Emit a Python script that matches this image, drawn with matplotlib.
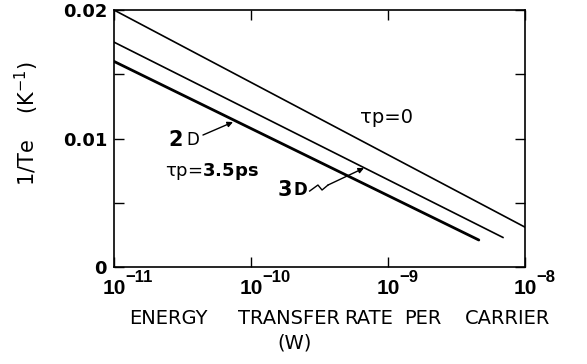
import matplotlib.pyplot as plt
import numpy as np
from matplotlib.ticker import FixedLocator, FixedFormatter
from matplotlib.transforms import offset_copy

plt.rcParams['font.family'] = ['DejaVu Sans']
plt.rcParams['mathtext.fontset'] = 'dejavusans'

# energy transfer rate per carrier (W) and 1/Te (1/K) at the line ends
p_tau0 = [1e-11, 1e-8]
inv_te_tau0 = [0.0200, 0.0031]

p_3d = [1e-11, 6.9e-9]
inv_te_3d = [0.0175, 0.0023]

p_2d = [1e-11, 4.6e-9]
inv_te_2d = [0.0160, 0.0021]

xticks = [1e-11, 1e-10, 1e-9, 1e-8]
xtick_exponents = ['\u221211', '\u221210', '\u22129', '\u22128']
yticks = [0, 0.01, 0.02]
yticklabels = ['0', '0.01', '0.02']
yminor = [0.005, 0.015]

fig = plt.figure(figsize=(5.87, 3.64), dpi=100)
ax = fig.add_axes([0.1942, 0.2665, 0.7002, 0.706])

ax.plot(p_tau0, inv_te_tau0, color='black', lw=1.2)
ax.plot(p_3d, inv_te_3d, color='black', lw=1.2)
ax.plot(p_2d, inv_te_2d, color='black', lw=2.0, solid_capstyle='round')

ax.set_xscale('log')
ax.set_xlim(1e-11, 1e-8)
ax.set_ylim(0, 0.02)

ax.xaxis.set_major_locator(FixedLocator(xticks))
ax.xaxis.set_minor_locator(FixedLocator([]))
ax.set_xticklabels([])
ax.yaxis.set_major_locator(FixedLocator(yticks))
ax.yaxis.set_major_formatter(FixedFormatter(yticklabels))
ax.yaxis.set_minor_locator(FixedLocator(yminor))

ax.tick_params(which='both', direction='in', length=7, width=1.0,
               top=True, right=True)
ax.tick_params(axis='y', labelsize=13, pad=5)
for lab in ax.get_yticklabels():
    lab.set_fontweight('bold')
for s in ax.spines.values():
    s.set_linewidth(1.2)

# decade labels: "10" centred on the tick, exponent hanging to the right
base_tr = offset_copy(ax.get_xaxis_transform(), fig=fig, x=0, y=-21.5,
                      units='dots')
exp_tr = offset_copy(ax.get_xaxis_transform(), fig=fig, x=11, y=-11,
                     units='dots')
for v, e in zip(xticks, xtick_exponents):
    ax.text(v, 0, '10', transform=base_tr, ha='center', va='center',
            family='Liberation Sans', fontweight='bold', fontsize=15)
    ax.text(v, 0, e, transform=exp_tr, ha='left', va='center',
            family='Liberation Sans', fontweight='bold', fontsize=12)

# curve labels
ax.text(9.8e-10, 0.01167, 'τp=0', fontsize=14, ha='center', va='center')
ax.text(2.84e-11, 0.0099, '2', fontsize=15, fontweight='bold',
        ha='center', va='center')
ax.text(3.77e-11, 0.0099, 'D', fontsize=12, ha='center', va='center')
ax.annotate('', xy=(7.39e-11, 0.01128), xytext=(4.46e-11, 0.01027),
            arrowprops=dict(arrowstyle='-|>', color='black', lw=1.0,
                            mutation_scale=8, shrinkA=0, shrinkB=0))
ax.text(5.2e-11, 0.0074, r'τp=$\mathbf{3.5ps}$', fontsize=13,
        ha='center', va='center')
ax.text(1.78e-10, 0.0060, '3', fontsize=15, fontweight='bold',
        ha='center', va='center')
ax.text(2.30e-10, 0.0060, 'D', fontsize=12, fontweight='bold',
        ha='center', va='center')

# squiggle leading to the 3D line
sq_x = [2.68e-10, 3.08e-10, 3.30e-10, 3.65e-10]
sq_y = [0.00591, 0.00638, 0.00599, 0.00638]
ax.plot(sq_x, sq_y, color='black', lw=1.0)
ax.annotate('', xy=(6.68e-10, 0.0077), xytext=(3.65e-10, 0.00638),
            arrowprops=dict(arrowstyle='-|>', color='black', lw=1.0,
                            mutation_scale=8, shrinkA=0, shrinkB=0))

# axis titles
fig.text(27 / 587, 1 - 124 / 364, '1/Te    (K$^{-1}$)', rotation=90,
         fontsize=15, ha='center', va='center')
xlabel_words = ['ENERGY', 'TRANSFER', 'RATE', 'PER', 'CARRIER']
word_centres = [168.5, 288.5, 368.5, 422.5, 508]
for w, cx in zip(xlabel_words, word_centres):
    fig.text(cx / 587, 1 - 318 / 364, w, fontsize=14,
             ha='center', va='center')
fig.text(295 / 587, 1 - 343 / 364, '(W)', fontsize=14,
         ha='center', va='center')

fig.savefig('out.png', dpi=100)
